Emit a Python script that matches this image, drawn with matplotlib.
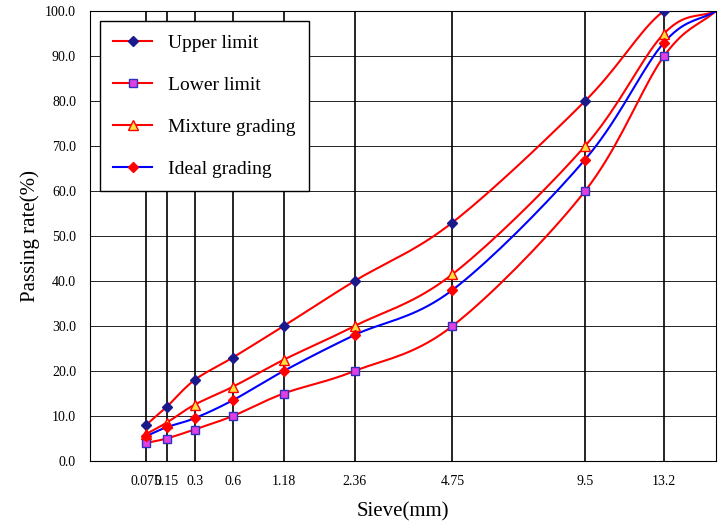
import numpy as np
import matplotlib.pyplot as plt
import matplotlib.transforms as mtransforms

plt.rcParams['font.family'] = ['Liberation Serif', 'DejaVu Serif']

sieves = [0.075, 0.15, 0.3, 0.6, 1.18, 2.36, 4.75, 9.5, 13.2, 16]
sieve_labels = ['0.075', '0.15', '0.3', '0.6', '1.18', '2.36', '4.75', '9.5', '13.2']
upper = [8, 12, 18, 23, 30, 40, 53, 80, 100, 100]
lower = [4, 5, 7, 10, 15, 20, 30, 60, 90, 100]
mixture = [6, 8.5, 12.5, 16.5, 22.5, 30, 41.5, 70, 95, 100]
ideal = [5.5, 7.5, 9.5, 13.5, 20, 28, 38, 67, 93, 100]
# label nudges (pixels) as in the original layout
label_shift = [-19, 9, 14, 13, 10, 6, 9, 9, 3]


def smooth(x, y, n=20):
    # Catmull-Rom through the points, just for drawing the curve
    x = np.asarray(x, float)
    y = np.asarray(y, float)
    px = np.concatenate([[2 * x[0] - x[1]], x, [2 * x[-1] - x[-2]]])
    py = np.concatenate([[2 * y[0] - y[1]], y, [2 * y[-1] - y[-2]]])
    xs, ys = [], []
    t = np.linspace(0, 1, n)
    for i in range(1, len(px) - 2):
        for p, out in ((px, xs), (py, ys)):
            p0, p1, p2, p3 = p[i - 1:i + 3]
            out.extend(0.5 * (2 * p1 + (-p0 + p2) * t + (2 * p0 - 5 * p1 + 4 * p2 - p3) * t ** 2
                              + (-p0 + 3 * p1 - 3 * p2 + p3) * t ** 3))
    return xs, ys


x = np.array(sieves) ** 0.45

fig = plt.figure(figsize=(7.24, 5.32), dpi=100)
ax = fig.add_axes([90 / 724, 71 / 532, 626 / 724, 450 / 532])

for xv in x[:-1]:
    ax.axvline(xv, color='black', lw=1.2, zorder=1)
for yv in range(10, 100, 10):
    ax.axhline(yv, color='black', lw=0.6, zorder=1)

series = [
    (upper, 'Upper limit', 'red', dict(marker='D', mfc='#1a1a8c', mec='#1a1a8c', ms=5)),
    (lower, 'Lower limit', 'red', dict(marker='s', mfc='#e040e0', mec='#3030c0', ms=6)),
    (mixture, 'Mixture grading', 'red', dict(marker='^', mfc='#ffe040', mec='red', ms=7)),
    (ideal, 'Ideal grading', 'blue', dict(marker='D', mfc='red', mec='red', ms=5)),
]
for vals, label, lc, mk in series:
    sx, sy = smooth(x, vals)
    ax.plot(sx, sy, color=lc, lw=1.5, zorder=2)
    ax.plot(x[:-1], vals[:-1], ls='none', zorder=3, **mk)
    ax.plot([], [], color=lc, lw=1.5, label=label, **mk)

ax.set_xlim(0, 16 ** 0.45)
ax.set_ylim(0, 100)
ax.set_xticks(x[:-1])
ax.set_xticklabels(sieve_labels, fontsize=10)
for lab, dx in zip(ax.get_xticklabels(), label_shift):
    lab.set_transform(lab.get_transform() + mtransforms.ScaledTranslation(dx / 100, 0, fig.dpi_scale_trans))
ax.set_yticks(range(0, 101, 10))
ax.set_yticklabels(['%.1f' % v for v in range(0, 101, 10)], fontsize=10)
ax.tick_params(length=0, pad=10)
ax.set_xlabel('Sieve(mm)', fontsize=15, labelpad=10)
ax.set_ylabel('Passing rate(%)', fontsize=15)

leg = ax.legend(loc='upper left', fontsize=14, frameon=True, fancybox=False,
                edgecolor='black', framealpha=1, borderpad=0.7, labelspacing=1.25,
                handlelength=2.0, bbox_to_anchor=(0.0, 1.0))
leg.get_frame().set_linewidth(1.0)

fig.savefig('out.png', dpi=100)
